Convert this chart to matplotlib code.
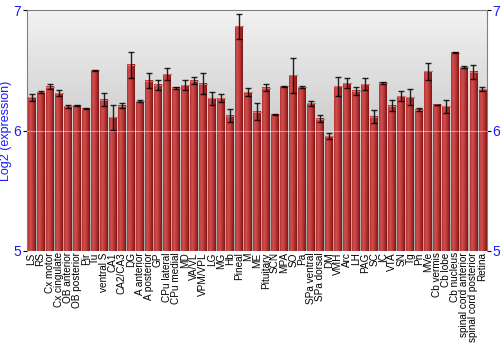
import numpy as np
import matplotlib
matplotlib.use('Agg')
import matplotlib.pyplot as plt
from matplotlib.colors import LinearSegmentedColormap

plt.rcParams['font.family'] = ['Liberation Sans', 'DejaVu Sans']

regions = ['LS', 'RS', 'Cx motor', 'Cx cingulate', 'OB anterior', 'OB posterior', 'Pir', 'Tu',
           'ventral S', 'CA1', 'CA2/CA3', 'DG', 'A anterior', 'A posterior', 'GP', 'CPu lateral',
           'CPu medial', 'MD', 'VA/VL', 'VPM/VPL', 'LG', 'MG', 'Hb', 'Pineal', 'M', 'ME',
           'Pituitary', 'SCN', 'MPA', 'SO', 'Pa', 'SPa ventral', 'SPa dorsal', 'DM', 'VMH',
           'Arc', 'LH', 'PAG', 'SC', 'IC', 'VTA', 'SN', 'Tg', 'Pn', 'MVe', 'Cb vermis',
           'Cb lobe', 'Cb nucleus', 'spinal cord anterior', 'spinal cord posterior', 'Retina']
expr = [6.276, 6.32, 6.365, 6.31, 6.20, 6.21, 6.18, 6.50,
        6.257, 6.11, 6.205, 6.547, 6.243, 6.414, 6.38, 6.47,
        6.354, 6.376, 6.414, 6.39, 6.27, 6.27, 6.124, 6.867, 6.32, 6.157,
        6.356, 6.133, 6.367, 6.459, 6.36, 6.226, 6.10, 5.953, 6.367,
        6.395, 6.331, 6.387, 6.116, 6.398, 6.207, 6.287, 6.276, 6.174, 6.492, 6.213,
        6.20, 6.646, 6.528, 6.489, 6.345]
err = [0.03, 0.01, 0.02, 0.025, 0.015, 0.005, 0.005, 0.003,
       0.056, 0.105, 0.02, 0.108, 0.01, 0.062, 0.043, 0.05,
       0.008, 0.04, 0.03, 0.088, 0.054, 0.035, 0.052, 0.105, 0.033, 0.072,
       0.028, 0.005, 0.003, 0.146, 0.008, 0.02, 0.028, 0.026, 0.08,
       0.039, 0.033, 0.05, 0.055, 0.008, 0.047, 0.041, 0.065, 0.014, 0.068, 0.003,
       0.052, 0.003, 0.01, 0.057, 0.015]

blue = '#1a1aff'
fig = plt.figure(figsize=(5, 3.5), dpi=100)
ax = fig.add_axes([0.054, 0.283, 0.92, 0.688])

x = np.arange(len(regions))
ax.set_xlim(-0.5, len(regions) - 0.5)
ax.set_ylim(5, 7)

# grey background gradient
bg = LinearSegmentedColormap.from_list('bg', ['#a8a8a8', '#f2f2f2'])
ax.imshow(np.linspace(0, 1, 256).reshape(-1, 1), cmap=bg, aspect='auto',
          extent=(-0.5, len(regions) - 0.5, 5, 7), origin='lower', zorder=0)

bars = ax.bar(x, np.array(expr) - 5, bottom=5, width=0.88, color='#b83232',
              edgecolor='none', zorder=1)
barcm = LinearSegmentedColormap.from_list('bar', ['#b03030', '#d05050', '#c44040', '#a82a2a', '#7a1515'])
grad = np.linspace(0, 1, 64).reshape(1, -1)
for b in bars:
    x0, w, y0, h = b.get_x(), b.get_width(), b.get_y(), b.get_height()
    ax.imshow(grad, cmap=barcm, aspect='auto', extent=(x0, x0 + w, y0, y0 + h), zorder=2)
    ax.plot([x0, x0 + w], [y0 + h, y0 + h], color='#d87070', lw=0.8, zorder=2.5)

ax.axhline(6, color='white', lw=0.8, alpha=0.45, zorder=3)
ax.errorbar(x, expr, yerr=err, fmt='none', ecolor='black', elinewidth=1,
            capsize=2, capthick=1, alpha=0.85, zorder=4)

ax.set_yticks([5, 6, 7])
ax.tick_params(axis='y', labelcolor=blue, labelsize=10, length=3, pad=1,
               right=True, labelright=True)
ax.set_xticks(x)
ax.set_xticklabels(regions, rotation=90, fontsize=7.2)
ax.tick_params(axis='x', length=0, pad=1)
ax.set_ylabel('Log2 (expression)', color=blue, fontsize=9, labelpad=1)
for s in ax.spines.values():
    s.set_color('#808080')
ax.spines['bottom'].set_visible(False)

fig.savefig('out.png', dpi=100)
